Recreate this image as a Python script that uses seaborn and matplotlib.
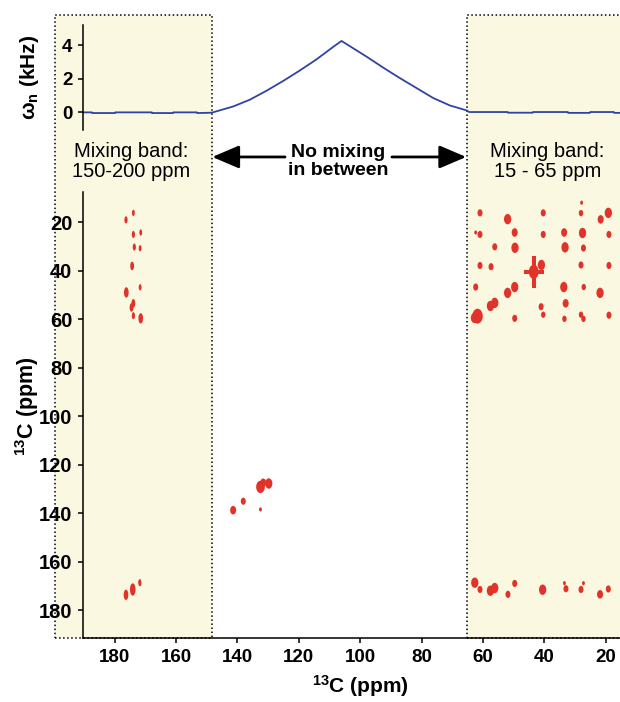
"""13C-13C相関スペクトルと混合帯域(mixing band)の図を再現する。"""

import matplotlib

matplotlib.use("Agg")
import matplotlib.pyplot as plt
import matplotlib.transforms as mtransforms
from matplotlib.patches import Rectangle
from matplotlib.path import Path
import seaborn as sns

# 上段: 混合場のオフセット (kHz) と 13C化学シフト (ppm)
omega_ppm = [190.3, 187.4, 187.3, 179.9, 179.8, 167.9, 167.8, 161.0, 160.9, 153.2, 153.1, 148.4,
             141.4, 136.0, 130.5, 125.1, 119.7, 114.2, 108.8, 106.1, 97.9, 92.5, 87.1, 81.7,
             76.3, 70.8, 65.4, 64.5,
             52.0, 51.9, 43.8, 43.7, 32.4, 32.3, 25.2, 25.1, 17.4, 17.3, 15.4]
omega_khz = [0.0, 0.0, -0.04, -0.04, 0.0, 0.0, -0.04, -0.04, 0.0, 0.0, -0.04, -0.02,
             0.35, 0.75, 1.29, 1.87, 2.49, 3.16, 3.90, 4.25, 3.31, 2.66, 2.04, 1.45,
             0.86, 0.41, 0.12, 0.02,
             0.02, -0.02, -0.02, 0.02, 0.02, -0.03, -0.03, 0.02, 0.02, -0.03, -0.03]

# 下段: ピーク位置 (F2, F1 ppm) と相対強度
carbonyl_x = [173.9, 176.3, 173.9, 171.5, 173.6, 171.7, 174.3, 171.7, 176.2, 173.9, 174.5,
              173.9, 171.5, 176.3, 174.1, 171.8]
carbonyl_y = [16.2, 19.1, 25.1, 24.3, 30.3, 30.8, 38.1, 46.9, 49.0, 53.5, 55.2,
              58.6, 59.7, 173.7, 171.5, 168.7]
carbonyl_int = [2, 2.5, 2.5, 2, 2.5, 2, 3.5, 2, 5, 3.5, 3.5,
                2.5, 5, 5, 7, 2.5]

aromatic_x = [132.5, 131.6, 129.8, 138.1, 141.4, 132.5]
aromatic_y = [129.2, 127.5, 127.8, 135.1, 138.8, 138.5]
aromatic_int = [7, 3.5, 5, 2.5, 3.5, 1]

aliphatic_x = [27.9, 61.0, 52.0, 40.4, 28.1, 19.2, 21.7, 62.4, 61.0, 49.7, 40.4, 33.6, 27.6,
               19.0, 56.2, 49.6, 33.3, 27.3, 61.0, 57.4, 41.0, 43.5, 28.1, 19.0, 62.4, 49.7,
               52.0, 33.7, 27.2, 21.9, 56.2, 57.6, 41.1, 33.1, 61.8, 62.8, 49.7, 40.4, 33.5,
               28.1, 27.3, 19.0,
               62.7, 61.0, 57.6, 56.2, 51.9, 49.7, 40.6, 33.5, 33.0, 28.1, 27.3, 21.9, 19.2]
aliphatic_y = [12.0, 16.2, 18.8, 16.2, 16.3, 16.2, 18.9, 24.3, 25.1, 24.3, 25.1, 24.3, 24.5,
               25.1, 30.2, 30.6, 30.4, 30.7, 37.9, 38.4, 37.7, 40.5, 37.7, 37.9, 46.8, 46.8,
               49.2, 46.8, 46.8, 49.2, 53.3, 54.6, 54.9, 53.5, 58.8, 59.5, 59.7, 58.2, 59.9,
               58.2, 59.9, 58.4,
               168.7, 171.5, 172.0, 170.9, 173.5, 169.0, 171.6, 168.9, 171.2, 171.5, 168.9,
               173.5, 171.3]
aliphatic_int = [1, 2.5, 5, 2.5, 2, 5, 3.5, 1, 2.5, 3.5, 2.5, 3.5, 5,
                 2.5, 2.5, 5, 5, 2.5, 2.5, 2.5, 5, 9, 2.5, 2.5, 2.5, 5,
                 5, 5, 2, 5, 5, 5, 2.5, 3.5, 10, 5, 2.5, 2, 2,
                 2, 2, 2.5,
                 5, 2.5, 5, 5, 2.5, 2.5, 5, 1, 2.5, 2.5, 1, 3.5, 2.5]

# 強い対角ピーク(十字形)
cross_x = [43.5]
cross_y = [40.5]

x_ticks = [180, 160, 140, 120, 100, 80, 60, 40, 20]
y_ticks = [20, 40, 60, 80, 100, 120, 140, 160, 180]
omega_ticks = [0, 2, 4]

PEAK_RED = "#E2332A"
BAND_FILL = "#FAF8E1"
CURVE_BLUE = "#2E44A0"

sns.set_theme(style="ticks")
plt.rcParams["font.family"] = ["Liberation Sans", "DejaVu Sans"]
plt.rcParams["mathtext.fontset"] = "custom"
plt.rcParams["mathtext.default"] = "bf"
plt.rcParams["mathtext.bf"] = "Liberation Sans:bold"
plt.rcParams["mathtext.rm"] = "Liberation Sans:bold"
plt.rcParams["axes.linewidth"] = 1.1
for key in ("text.color", "axes.labelcolor", "xtick.color", "ytick.color", "axes.edgecolor"):
    plt.rcParams[key] = "black"

fig = plt.figure(figsize=(6.2, 7.02), dpi=100)
fig.patch.set_facecolor("white")
ax_top = fig.add_axes([0.1339, 0.8148, 0.8661, 0.1496])
ax = fig.add_axes([0.1339, 0.0912, 0.8661, 0.6353], sharex=ax_top)
for a in (ax_top, ax):
    a.set_facecolor("none")

# 上段の曲線
sns.lineplot(x=omega_ppm, y=omega_khz, ax=ax_top, color=CURVE_BLUE, linewidth=1.3)
ax_top.set_ylim(-1.05, 5.2)
ax_top.set_yticks(omega_ticks)
ax_top.set_ylabel(r"$\omega_n$ (kHz)", fontsize=15, fontweight="bold")
ax_top.tick_params(axis="x", bottom=False, labelbottom=False)
sns.despine(ax=ax_top, bottom=True)

# ピーク形状: 縦長の楕円と十字
narrow = Path.unit_circle().transformed(mtransforms.Affine2D().scale(0.45, 1.0))
roundish = Path.unit_circle().transformed(mtransforms.Affine2D().scale(0.7, 1.0))
t, h = 0.12, 0.66
cross = Path([(-t, 1), (t, 1), (t, t), (h, t), (h, -t), (t, -t), (t, -1), (-t, -1),
              (-t, -t), (-h, -t), (-h, t), (-t, t), (-t, 1)], closed=True)

peak_kw = dict(ax=ax, color=PEAK_RED, linewidth=0, legend=False,
               sizes=(9, 115), size_norm=(1, 10))
sns.scatterplot(x=carbonyl_x, y=carbonyl_y, size=carbonyl_int, marker=narrow, **peak_kw)
sns.scatterplot(x=aromatic_x, y=aromatic_y, size=aromatic_int, marker=roundish, **peak_kw)
sns.scatterplot(x=aliphatic_x, y=aliphatic_y, size=aliphatic_int, marker=roundish, **peak_kw)
sns.scatterplot(x=cross_x, y=cross_y, ax=ax, color=PEAK_RED, linewidth=0, marker=cross,
                s=520, legend=False)

ax.set_xlim(190.3, 15.4)
ax.set_ylim(191.5, 7.6)
ax.set_xticks(x_ticks)
ax.set_yticks(y_ticks)
sns.despine(ax=ax)

label13 = r"$^{13}$C (ppm)"
ax.set_xlabel(label13, fontsize=15, fontweight="bold")
ax.set_ylabel(label13, fontsize=15.5, fontweight="bold")
ax.xaxis.set_label_coords(0.516, -0.079)
ax.yaxis.set_label_coords(-0.079, 0.52)
ax_top.yaxis.set_label_coords(-0.079, 0.5)

for a, ysize in ((ax_top, 13.5), (ax, 14.5)):
    a.tick_params(direction="out", length=3.6, width=1.1, pad=4, colors="black")
    for lab in a.get_yticklabels():
        lab.set_fontsize(ysize)
        lab.set_fontweight("bold")
for lab in ax.get_xticklabels():
    lab.set_fontsize(13.5)
    lab.set_fontweight("bold")

# 混合帯域(上下の両パネルにまたがる)
band = mtransforms.blended_transform_factory(ax.transData, fig.transFigure)
y0, y1 = 0.0912, 0.9786
for lo, hi in ((199.5, 148.4), (65.3, 14.0)):
    fig.add_artist(Rectangle((lo, y0), hi - lo, y1 - y0, transform=band, facecolor=BAND_FILL,
                             edgecolor="black", linestyle=":", linewidth=1.1, zorder=-1))

ax.text(174.7, 0.770, "Mixing band:\n150-200 ppm", transform=band, ha="center", va="center",
        fontsize=14.5, linespacing=1.1)
ax.text(39.0, 0.770, "Mixing band:\n15 - 65 ppm", transform=band, ha="center", va="center",
        fontsize=14.5, linespacing=1.1)
ax.text(107.3, 0.770, "No mixing\nin between", transform=band, ha="center", va="center",
        fontsize=14, fontweight="bold", linespacing=1.1)

arrow = dict(arrowstyle="-|>,head_length=0.75,head_width=0.32", color="black", lw=2.0,
             shrinkA=0, shrinkB=0, mutation_scale=22)
ax.annotate("", xy=(148.2, 0.7764), xytext=(124.5, 0.7764), xycoords=band, textcoords=band,
            arrowprops=arrow, annotation_clip=False)
ax.annotate("", xy=(65.5, 0.7764), xytext=(89.7, 0.7764), xycoords=band, textcoords=band,
            arrowprops=arrow, annotation_clip=False)

fig.savefig("out.png", dpi=100)
plt.close(fig)
